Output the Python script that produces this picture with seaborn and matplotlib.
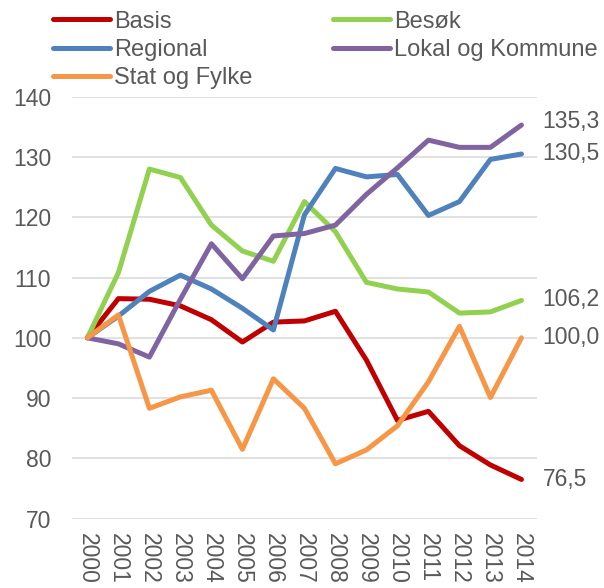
import pandas as pd
import matplotlib
matplotlib.use("Agg")
import matplotlib.pyplot as plt
import seaborn as sns

years = list(range(2000, 2015))
basis = [100, 106.5, 106.4, 105.3, 103.0, 99.3, 102.6, 102.8, 104.4, 96.3, 86.3, 87.8, 82.1, 78.9, 76.5]
besok = [100, 110.8, 128.0, 126.6, 118.7, 114.4, 112.7, 122.6, 117.6, 109.2, 108.1, 107.6, 104.1, 104.3, 106.2]
regional = [100, 103.6, 107.7, 110.4, 108.1, 104.9, 101.3, 120.4, 128.1, 126.7, 127.1, 120.3, 122.6, 129.6, 130.5]
lokal = [100, 99.0, 96.8, 106.4, 115.6, 109.8, 116.9, 117.3, 118.7, 123.8, 128.2, 132.8, 131.6, 131.6, 135.3]
stat = [100, 103.8, 88.3, 90.2, 91.3, 81.5, 93.2, 88.3, 79.1, 81.4, 85.4, 92.7, 101.9, 90.1, 100.0]

series_names = ["Basis", "Besøk", "Regional", "Lokal og Kommune", "Stat og Fylke"]
colors = ["#C00000", "#92D050", "#4F81BD", "#8064A2", "#F79646"]
end_labels = ["76,5", "106,2", "130,5", "135,3", "100,0"]

sns.set_style("white")
plt.rcParams["font.family"] = ["Liberation Sans", "DejaVu Sans"]
text_col = "#595959"

df = pd.DataFrame({"year": years * 5,
                   "value": basis + besok + regional + lokal + stat,
                   "serie": sum([[n] * len(years) for n in series_names], [])})

fig = plt.figure(figsize=(6.04, 5.88), dpi=100)
ax = fig.add_axes([0.119, 0.118, 0.770, 0.7175])

sns.lineplot(data=df, x="year", y="value", hue="serie", hue_order=series_names,
             palette=colors, linewidth=3.6, ax=ax, legend=False,
             solid_joinstyle="round", solid_capstyle="round")

ax.set_xlim(1999.5, 2014.5)
ax.set_ylim(70, 140)
ax.set_yticks(range(70, 141, 10))
ax.set_xticks(years)
ax.set_xticklabels([str(y) for y in years], rotation=-90, va="top", ha="center")
ax.grid(axis="y", color="#D9D9D9", linewidth=1.1)
ax.set_axisbelow(True)
for s in ax.spines.values():
    s.set_visible(False)
ax.tick_params(axis="y", length=0, pad=15, labelsize=16.5, labelcolor=text_col)
ax.tick_params(axis="x", length=0, pad=10, labelsize=16.5, labelcolor=text_col)
ax.set_xlabel("")
ax.set_ylabel("")

# end labels
last_vals = [basis[-1], besok[-1], regional[-1], lokal[-1], stat[-1]]
nudges = [0, 1, 0, 4, 0]
for v, lab, dy in zip(last_vals, end_labels, nudges):
    ax.annotate(lab, xy=(years[-1], v), xytext=(21, dy), textcoords="offset pixels",
                va="center", ha="left", fontsize=16.5, color=text_col,
                annotation_clip=False)

# legend, row-wise like the original (matplotlib fills columns first)
handles = [plt.Line2D([], [], color=c, linewidth=3.6, solid_capstyle="round") for c in colors]
order = [0, 2, 4, 1, 3]
fig.legend([handles[i] for i in order], [series_names[i] for i in order],
           loc="upper left", bbox_to_anchor=(0.08, 0.99),
           ncol=2, frameon=False, fontsize=17, labelcolor=text_col,
           handlelength=2.4, handletextpad=0.2, columnspacing=3.4,
           labelspacing=0.27, borderpad=0.2, borderaxespad=0)

fig.savefig("out.png", dpi=100)
